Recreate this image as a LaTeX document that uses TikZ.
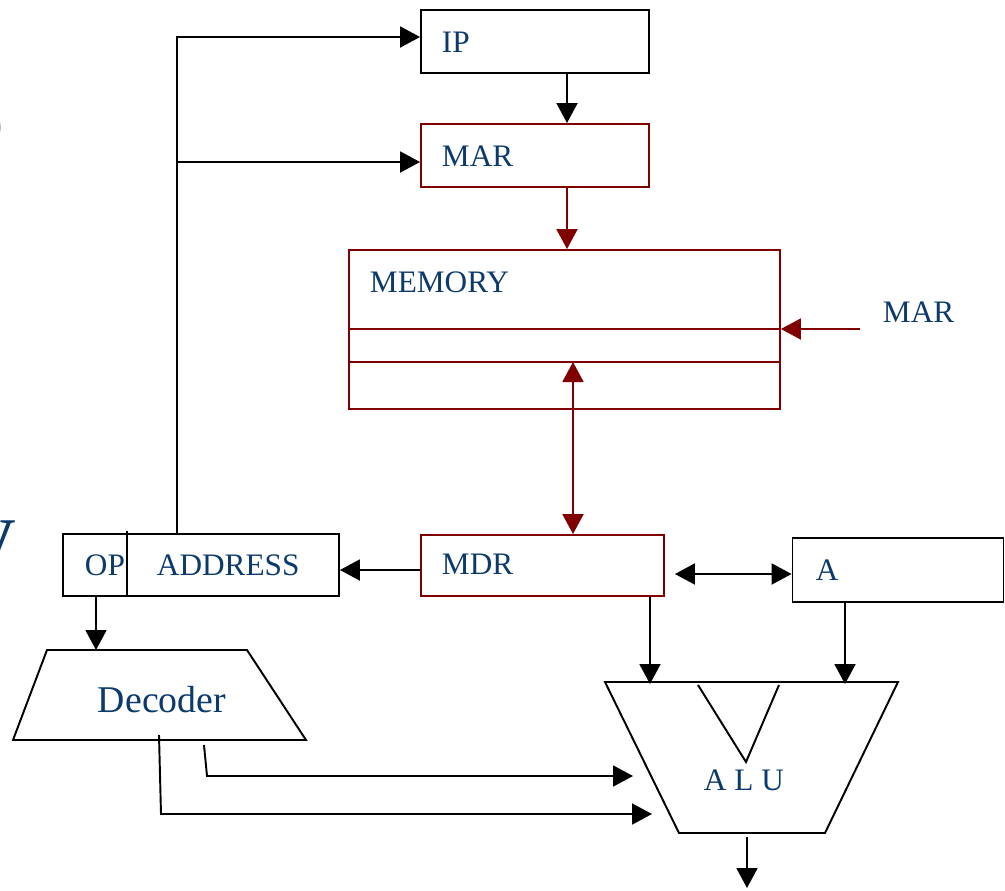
\documentclass[tikz,border=0pt]{standalone}
\usepackage{fontspec}
\setmainfont{Liberation Serif}
\usetikzlibrary{arrows.meta,positioning}
\definecolor{navy}{RGB}{12,58,108}
\definecolor{maroon}{RGB}{128,0,0}

\begin{document}
\begin{tikzpicture}[x=0.02cm,y=-0.02cm,line width=1.1pt,
    box/.style={draw,inner sep=0pt},
    txt/.style={text=navy,font=\fontsize{17.8}{20}\selectfont,inner sep=0pt,anchor=base west},
    arr/.style={-{Triangle[length=0.4cm,width=0.42cm]}},
    darr/.style={{Triangle[length=0.4cm,width=0.42cm]}-{Triangle[length=0.4cm,width=0.42cm]}}]
    \useasboundingbox (0,0) rectangle (1005,890);
    \begin{scope}
        \clip (0,0) rectangle (1005,890);
        \node[text=navy,font=\fontsize{46}{50}\selectfont,inner sep=0pt,anchor=base east] (cuto) at (5,146) {o};
        \node[text=navy,font=\fontsize{48}{52}\selectfont,inner sep=0pt,anchor=base east] (cuty) at (17,559) {y};
    \end{scope}

    \node[box,minimum width=4.56cm,minimum height=1.26cm] (ip) at (535,41.5) {};
    \node[box,draw=maroon,minimum width=4.56cm,minimum height=1.26cm] (mar) at (535,155.5) {};
    \node[box,draw=maroon,minimum width=8.62cm,minimum height=3.18cm] (mem) at (564.5,329.5) {};
    \node[box,draw=maroon,minimum width=4.86cm,minimum height=1.22cm] (mdr) at (542.5,565.5) {};
    \node[box,minimum width=5.52cm,minimum height=1.24cm] (ir) at (201,565) {};
    \node[box,minimum width=4.22cm,minimum height=1.28cm] (acc) at (898,570) {};

    \node[txt] (iptxt) at (441,52) {IP};
    \node[txt] (martxt) at (441,166) {MAR};
    \node[txt] (memtxt) at (369,292) {MEMORY};
    \node[txt] (mdrtxt) at (441,574) {MDR};
    \node[txt] (optxt) at (84,575) {OP};
    \node[txt] (addrtxt) at (156,575) {ADDRESS};
    \node[txt] (acctxt) at (815,580) {A};
    \node[txt] (marin) at (882,322) {MAR};
    \node[txt,font=\fontsize{21.5}{24}\selectfont] (dectxt) at (97,712) {Decoder};
    \node[txt] (alutxt) at (703,790) {A L U};

    \coordinate (bus) at (567,0);
    \coordinate (row) at (573,329);
    \coordinate (slot) at (573,362);
    \coordinate (fb) at (177,0);
    \coordinate (opx) at (96,0);
    \coordinate (marsrc) at (860,329);
    \coordinate (decin) at (96,650);
    \coordinate (aluin1) at (650,684);
    \coordinate (aluin2) at (845,684);
    \coordinate (aluout) at (747,837);
    \coordinate (res) at (747,888);
    \coordinate (decf1) at (159,735);
    \coordinate (decf2) at (204,745);
    \coordinate (aluf1) at (652,814);
    \coordinate (aluf2) at (633,776);

    \draw[maroon] (mem.west |- row) -- (mem.east |- row);
    \draw[maroon] (mem.west |- slot) -- (mem.east |- slot);
    \draw (127,531) -- (127,596);
    \draw (47,650) -- (247,650) -- (306,740) -- (13,740) -- cycle;
    \draw (605,682) -- (898,682) -- (825,833) -- (679,833) -- cycle;
    \draw (698,685) -- (746,762) -- (779,685);

    \draw[arr] (ip.south -| bus) -- (mar.north -| bus);
    \draw[arr,maroon] (mar.south -| bus) -- (mem.north -| bus);
    \draw[darr,maroon] (slot) -- (mdr.north -| slot);
    \draw[arr,maroon] (marsrc) -- (mem.east |- marsrc);
    \draw[arr] ([yshift=-0.09cm]mdr.west) -- ([yshift=-0.09cm]mdr.west -| ir.east);
    \draw[darr] ([xshift=0.2cm,yshift=-0.08cm]mdr.east |- acc.west) -- ([yshift=-0.08cm]acc.west);
    \draw[arr] (ir.north -| fb) |- ([yshift=0.09cm]ip.west);
    \draw[arr] (fb |- 0,162) -- (mar.west |- 0,162);
    \draw[arr] (ir.south -| opx) -- (decin);
    \draw[arr] (mdr.south -| aluin1) -- (aluin1);
    \draw[arr] (acc.south -| aluin2) -- (aluin2);
    \draw[arr] (aluout) -- (res);
    \draw[arr] (decf1) -- (161,814) -- (aluf1);
    \draw[arr] (decf2) -- (207,776) -- (aluf2);
\end{tikzpicture}
\end{document}
